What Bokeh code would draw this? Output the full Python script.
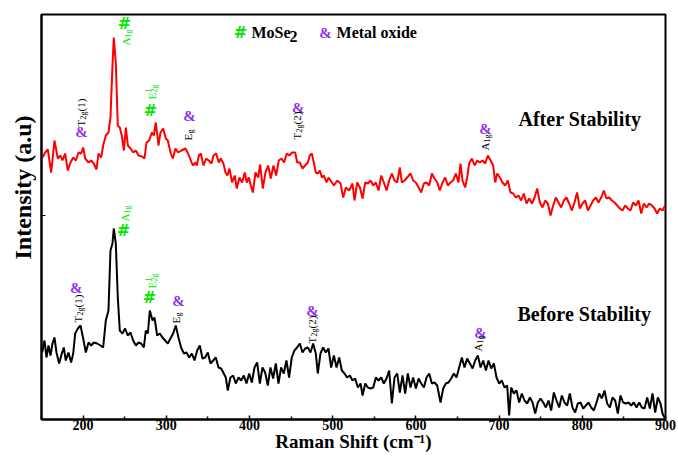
import math
from bokeh.plotting import figure
from bokeh.models import Range1d, Label, FixedTicker, Title
from bokeh.embed import file_html
from bokeh.resources import INLINE

# ---------------- data ----------------
# Raman shift (cm^-1) and intensity (arbitrary units) of the spectrum after stability (red)
after_shift = [151.2, 154.4, 157.6, 161.6, 165.6, 169.6, 172.8, 175.2, 178.4, 181.6,
               184.9, 188.1, 191.3, 194.5, 197.7, 200.1, 202.5, 206.5, 209.7, 212.9,
               216.1, 218.5, 221.7, 224.1, 227.3, 230.5, 232.9, 235.3, 236.9, 239.3,
               241.7, 244.1, 246.5, 249.0, 251.4, 253.8, 257.0, 260.2, 263.4, 266.6,
               270.6, 273.8, 276.2, 279.4, 282.6, 285.0, 287.4, 290.6, 293.0, 296.2,
               299.4, 301.8,
               305.4, 307.8, 311.0, 314.2, 318.2, 323.0, 326.2, 328.6, 331.9, 335.1,
               336.7, 339.1, 341.5, 344.7, 347.9, 351.1, 354.3, 356.7, 359.9, 363.1,
               365.5, 368.7, 371.1, 373.5, 375.9, 379.1, 382.3, 384.7, 387.9, 391.1,
               394.3, 396.7, 399.2, 401.6, 404.0, 407.2, 410.4, 412.8, 416.0, 419.2,
               422.4, 425.6, 428.8, 432.0, 435.2, 438.4, 441.6, 444.8, 448.0, 451.2,
               454.9, 457.3, 460.5, 463.7, 466.9, 470.1, 472.5, 474.9, 477.3, 479.7,
               482.2, 484.6, 487.0, 489.4, 492.6, 495.0,
               501.4, 505.5, 509.4, 512.6, 515.8, 519.8, 523.8, 526.2, 529.4, 532.7,
               535.9, 539.1, 542.3, 545.5, 548.7, 551.9, 555.1, 558.3, 561.5, 564.7,
               567.9, 571.1, 574.3, 577.5, 580.7, 583.1, 586.3, 589.5, 593.5, 596.7,
               600.0, 603.2, 606.4, 609.6, 612.8, 616.0, 619.2, 622.4, 625.6, 628.8,
               632.0, 635.2, 638.4, 641.6, 644.8, 648.0, 651.2, 653.6, 656.0, 659.2,
               661.6, 664.0, 667.3, 670.5, 673.7, 676.9, 680.1, 683.3, 686.5, 689.7,
               692.9, 695.3, 697.7, 700.9, 704.1, 707.3, 710.5, 713.7, 716.9, 720.1,
               723.3, 726.5, 729.7, 732.9, 736.2, 739.4, 742.6, 745.8, 749.0, 752.2,
               755.4, 758.6, 761.8, 765.0, 768.2, 771.4, 774.6, 777.8, 781.0, 784.2,
               787.4, 790.6, 793.8, 797.0, 800.3, 803.5, 806.7, 809.9, 813.1, 816.3,
               819.5, 822.7, 825.9, 829.1, 832.3, 835.5, 838.7, 841.9, 845.1, 848.3,
               851.5, 854.7, 857.9, 861.1, 864.4, 867.6, 870.8, 874.0, 877.2, 880.4,
               883.6, 886.8, 890.0, 893.2, 896.4, 899.6]
after_int = [262, 267, 270, 247, 279, 261, 264, 259, 266, 249,
             257, 262, 259, 267, 266, 272, 261, 257, 259, 256,
             250, 266, 262, 274, 284, 287, 302, 354, 382, 357,
             294, 292, 284, 269, 292, 274, 271, 267, 269, 264,
             263, 261, 277, 279, 287, 284, 297, 274, 287, 291,
             281, 279,
             266, 261, 271, 267, 269, 271, 266, 261, 254, 257,
             254, 264, 266, 254, 261, 259, 256, 264, 266, 257,
             261, 256, 247, 244, 251, 237, 244, 231, 242, 237,
             247, 237, 242, 234, 227, 247, 242, 255, 231, 247,
             254, 241, 254, 244, 259, 261, 257, 266, 264, 267,
             267, 257, 257, 251, 254, 257, 264, 266, 257, 247,
             246, 249, 242, 244, 237, 242,
             234, 239, 236, 222, 232, 229, 236, 219, 237, 232,
             221, 237, 236, 239, 234, 237, 229, 244, 237, 229,
             239, 246, 239, 237, 252, 237, 239, 242, 246, 239,
             237, 232, 227, 236, 237, 234, 246, 241, 237, 229,
             237, 242, 234, 237, 239, 246, 237, 256, 239, 232,
             242, 256, 261, 254, 259, 257, 259, 256, 264, 259,
             254, 237, 246, 242, 237, 234, 239, 227, 226, 222,
             224, 219, 226, 216, 221, 216, 222, 231, 217, 212,
             219, 216, 204, 214, 222, 217, 212, 219, 222, 216,
             209, 217, 227, 211, 216, 219, 209, 214, 219, 222,
             217, 222, 229, 221, 222, 219, 217, 214, 211, 209,
             214, 211, 209, 217, 214, 219, 206, 216, 212, 216,
             214, 211, 206, 211, 209, 214]

# spectrum before stability (black)
before_shift = [150.8, 153.6, 156.0, 158.4, 160.8, 163.2, 165.6, 168.0, 171.2, 174.4,
                176.8, 179.2, 182.4, 185.6, 188.1, 190.5, 193.7, 196.9, 200.1, 203.3,
                206.5, 209.7, 212.9, 216.9, 220.9, 224.1, 227.3, 230.5, 232.9, 235.3,
                236.9, 239.3, 241.7, 244.1, 247.3, 250.5, 253.7, 256.9, 260.2, 263.4,
                266.6, 269.8, 273.0, 275.4, 277.8, 280.2, 283.4, 285.8, 289.0, 292.2,
                295.4, 298.6, 301.8, 305.0, 308.2, 311.4, 314.6, 317.8, 321.1, 324.3,
                327.5, 330.7, 333.9, 337.1, 340.3, 343.5, 346.7, 349.9, 353.1, 356.3,
                359.5, 362.7, 365.9, 369.1, 371.5, 373.9, 377.1, 380.3, 383.5, 386.8,
                390.0, 393.2, 396.4, 399.6, 402.8, 406.0, 409.2, 412.4, 415.6, 418.8,
                422.0, 425.2, 428.4, 431.6, 434.8, 438.0, 441.2, 444.4, 447.6, 450.8,
                454.0, 457.2, 460.5, 463.7, 466.9, 470.1, 473.3, 476.5, 479.7, 482.1,
                485.3, 488.5, 491.7, 494.9, 498.1,
                501.4, 504.6, 507.8, 511.0, 514.2, 517.4, 520.6, 523.8, 527.0, 530.2,
                533.5, 535.9, 539.1, 542.3, 545.5, 548.7, 551.9, 555.1, 558.3, 561.5,
                564.7, 567.9, 571.1, 574.3, 577.5, 580.7, 583.9, 587.1, 590.3, 593.5,
                596.7, 600.0, 603.2, 606.4, 609.6, 612.8, 616.0, 619.2, 622.4, 625.6,
                629.6, 632.8, 636.0, 639.2, 642.4, 645.6, 648.8, 652.0, 655.2, 658.4,
                661.6, 664.9, 668.1, 671.3, 674.5, 677.7, 680.9, 684.1, 687.3, 690.5,
                693.7, 696.9, 700.1, 703.3, 706.5, 709.7, 712.1, 714.5, 717.7, 720.9,
                724.1, 727.3, 730.6, 733.8, 737.0, 740.2, 743.4, 746.6, 749.8, 753.0,
                756.2, 759.4, 762.6, 765.8, 769.0, 772.2, 775.4, 778.6, 781.8, 785.0,
                788.2, 791.4, 794.6, 797.9, 801.1, 804.3, 807.5, 810.7, 813.9, 817.1,
                820.3, 823.5, 826.7, 829.9, 833.1, 836.3, 839.5, 842.7, 845.9, 849.1,
                852.3, 855.5, 858.7, 861.9, 865.2, 868.4, 871.6, 874.8, 878.0, 881.2,
                884.4, 887.6, 890.8, 894.0, 896.4, 898.8]
before_int = [67, 79, 62, 74, 64, 76, 82, 67, 56, 66,
              72, 59, 67, 57, 66, 86, 91, 94, 81, 67,
              77, 74, 77, 76, 74, 72, 99, 109, 169, 176,
              191, 176, 122, 89, 86, 91, 84, 87, 79, 74,
              77, 76, 72, 89, 86, 109, 99, 102, 84, 86,
              82, 79, 76, 81, 86, 94, 82, 72, 66, 67,
              62, 66, 59, 69, 74, 61, 62, 67, 56, 59,
              62, 52, 51, 46, 42, 29, 42, 44, 36, 42,
              39, 44, 36, 46, 37, 52, 57, 36, 52, 47,
              34, 52, 41, 56, 36, 52, 46, 59, 42, 62,
              69, 72, 76, 67, 71, 72, 67, 76, 66, 46,
              66, 72, 67, 71, 52,
              64, 52, 62, 49, 46, 42, 44, 39, 41, 32,
              36, 24, 36, 32, 31, 32, 42, 39, 42, 36,
              41, 49, 16, 42, 46, 27, 44, 26, 46, 32,
              42, 31, 41, 36, 32, 42, 46, 36, 37, 34,
              17, 31, 36, 37, 41, 46, 42, 52, 62, 52,
              61, 56, 51, 59, 64, 52, 59, 49, 59, 51,
              56, 42, 36, 39, 32, 34, 4, 32, 26, 29,
              17, 26, 19, 16, 22, 17, 6, 17, 21, 17,
              12, 19, 9, 27, 19, 12, 24, 17, 14, 26,
              12, 7, 16, 17, 11, 14, 17, 12, 9, 17,
              26, 21, 29, 16, 12, 22, 19, 6, 24, 17,
              16, 17, 14, 17, 12, 17, 12, 11, 22, 11,
              26, 7, 22, 16, 6, 2]

x_ticks = [200, 300, 400, 500, 600, 700, 800, 900]
x_minor = [150, 250, 350, 450, 550, 650, 750, 850]

# ---------------- figure ----------------
SERIF = "Liberation Serif"
GREEN = "#00e600"
PURPLE = "#8f2cf0"
PX = 1 / 0.832  # cm^-1 per screen pixel

p = figure(width=678, height=456, x_range=Range1d(150, 900), y_range=Range1d(0, 405),
           output_backend="svg", toolbar_location=None,
           min_border_left=41, min_border_right=13, min_border_top=14, min_border_bottom=37)
p.background_fill_color = "white"
p.border_fill_color = "white"
p.grid.visible = False
p.outline_line_color = "black"
p.outline_line_width = 2

p.line(after_shift, after_int, line_color="#ff0000", line_width=2)
p.line(before_shift, before_int, line_color="black", line_width=2)

xa = p.xaxis[0]
xa.ticker = FixedTicker(ticks=x_ticks, minor_ticks=x_minor)
xa.axis_line_width = 2
xa.major_tick_in = 4
xa.major_tick_out = 0
xa.minor_tick_in = 3
xa.minor_tick_out = 0
xa.major_tick_line_width = 1.5
xa.minor_tick_line_width = 1.5
xa.major_label_text_font = SERIF
xa.major_label_text_font_size = "14px"
xa.major_label_text_font_style = "bold"
xa.major_label_text_color = "black"
xa.major_label_standoff = 0
xa.axis_label = "Raman Shift (cm⁻¹)"
xa.axis_label_text_font = SERIF
xa.axis_label_text_font_size = "19px"
xa.axis_label_text_font_style = "bold"
xa.axis_label_text_color = "black"
xa.axis_label_standoff = -2

ya = p.yaxis[0]
ya.ticker = FixedTicker(ticks=[204], minor_ticks=[])
ya.major_label_overrides = {204: ""}
ya.major_label_text_font_size = "0px"
ya.major_label_standoff = 0
ya.axis_line_width = 2
ya.major_tick_in = 4
ya.major_tick_out = 0
ya.minor_tick_line_color = None

ytitle = Title(text="Intensity (a.u)", align="right", offset=101, standoff=12,
               text_font=SERIF, text_font_size="24px", text_font_style="bold",
               text_color="black")
p.add_layout(ytitle, "left")


def lab(x, y, text, size, color="black", bold=False, angle=0.0, align="left",
        baseline="middle", font=SERIF):
    p.add_layout(Label(x=x, y=y, text=text, text_font=font, text_font_size=f"{size}px",
                       text_font_style="bold" if bold else "normal", text_color=color,
                       angle=angle, text_align=align, text_baseline=baseline))


def vlab(x, y, pieces, color="black"):
    """Vertical (bottom-to-top) label composed of pieces: (text, size, dx_px, advance_px)."""
    off = 0
    for text, size, dx, adv in pieces:
        lab(x + dx * PX, y + off, text, size, color, angle=math.pi / 2)
        off += adv


def amp(x, y):
    lab(x, y, "&", 15, PURPLE, bold=True, align="center")


def hsh(x, y):
    lab(x, y, "#", 16, GREEN, bold=True, align="center", font="DejaVu Sans")


T2G1 = [("T", 11, 0, 7), ("2g", 8, 2.5, 8), ("(1)", 11, 0, 13)]
T2G2 = [("T", 11, 0, 7), ("2g", 8, 2.5, 8), ("(2)", 11, 0, 13)]
A1G = [("A", 11, 0, 8), ("1g", 8, 2.5, 8)]
EG = [("E", 11, 0, 7), ("g", 8, 2.5, 4)]


def e2g(x, y, color):
    lab(x, y, "E", 11, color, angle=math.pi / 2)
    lab(x - 4 * PX, y + 7, "1", 8, color, angle=math.pi / 2)
    lab(x + 2.5 * PX, y + 7, "2g", 8, color, angle=math.pi / 2)


# ----- annotations: after stability -----
amp(198.1, 288)
vlab(196.9, 293, T2G1)
hsh(249.8, 396)
vlab(251.0, 374, A1G, GREEN)
hsh(281.0, 309)
e2g(283.4, 320, GREEN)
amp(327.9, 304)
vlab(325.5, 279, EG)
amp(458.5, 312)
vlab(456.5, 280, T2G2)
amp(683.7, 291)
vlab(682.5, 269, A1G)

# ----- annotations: before stability -----
amp(191.7, 132)
vlab(193.3, 97, T2G1)
vlab(249.8, 198, A1G, GREEN)
hsh(248.6, 189)
hsh(279.8, 122)
e2g(283.4, 131, GREEN)
amp(314.7, 119)
vlab(311.1, 96, EG)
amp(475.7, 109)
vlab(475.7, 76, T2G2)
amp(677.6, 87)
vlab(675.2, 68, A1G)

# ----- series names -----
lab(723.3, 301, "After Stability", 20, bold=True)
lab(722.1, 106, "Before Stability", 20, bold=True)

# ----- legend -----
hsh(389.2, 387)
lab(402.4, 387, "MoSe", 16, bold=True)
lab(402.4 + 38 * PX, 383, "2", 16, bold=True)
amp(491.3, 387)
lab(504.6, 387, "Metal oxide", 16, bold=True)

open("out.html", "w").write(file_html(p, INLINE))
